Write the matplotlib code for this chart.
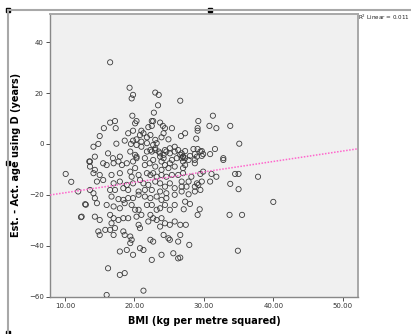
import numpy as np
import matplotlib.pyplot as plt
from matplotlib.patches import Rectangle
from matplotlib.lines import Line2D

bmi = [
    16.5, 19.3, 19.8, 19.6, 23.0, 23.5, 23.4, 26.6, 19.7, 22.8, 17.2, 16.5, 20.3, 20.1,
    22.5, 22.7, 23.7, 15.6, 17.3, 19.1, 19.8, 21.0, 21.3, 20.8, 22.0, 22.5, 24.1, 24.4,
    24.2, 25.4, 15.0, 14.1, 14.8, 17.4, 18.6, 19.5, 19.8, 20.3, 21.0, 21.8, 22.3, 23.0,
    23.2, 22.7, 23.9, 24.9, 25.8, 26.3, 16.2, 14.3, 16.9, 17.9, 19.4, 20.1, 20.3, 21.8,
    22.5, 23.0, 23.5, 24.6, 25.1, 24.2, 23.7,
    31.3, 29.2, 30.8, 31.8, 33.8, 29.1, 29.1, 27.3, 26.7, 28.9, 35.1, 28.5, 29.1, 29.7,
    31.6, 30.9, 27.3, 26.8, 28.0, 28.7, 29.7, 29.9, 32.8, 27.0, 27.3, 26.8,
    13.6, 13.6, 14.3, 15.5, 16.0, 17.0, 17.7, 18.2, 18.9, 19.8, 20.1, 21.5, 22.2, 23.0,
    23.9, 24.4, 25.1, 25.8, 24.9, 23.9,
    14.1, 15.0, 16.7, 17.9, 19.4, 19.6, 20.6, 21.8, 22.3, 22.7, 23.2, 23.9, 24.6, 25.4,
    26.3, 15.5, 14.6, 17.0, 17.9, 18.9, 19.8, 20.8, 21.3, 22.0, 23.0, 23.7, 24.4, 25.1,
    25.8, 13.6, 16.5, 17.2, 18.4, 19.1, 20.6, 21.5, 22.5, 23.7, 24.6, 14.1, 14.3, 12.9,
    14.6, 16.0, 16.7, 17.7, 18.4, 19.1, 19.8, 20.6, 21.5, 22.3, 23.2, 23.9, 24.6, 25.8,
    17.0, 17.9, 18.6, 20.1, 20.6, 19.6, 21.8, 22.5, 23.2, 23.7, 24.4, 25.1, 25.8,
    12.4, 14.3, 15.0, 16.5, 17.0, 16.7, 17.7, 18.4, 19.1, 20.3, 21.0, 20.6, 20.8,
    22.3, 22.7, 22.0, 23.2, 23.9, 24.4, 25.1, 23.7, 25.8,
    14.8, 15.0, 15.8, 16.5, 17.2, 17.0, 18.4, 18.6, 19.4, 19.6, 19.4,
    22.3, 22.7, 24.2, 24.9, 25.1, 26.3, 17.9, 18.9, 19.8, 20.8, 21.3,
    22.5, 23.9, 25.6, 26.3, 16.2, 17.9, 18.6, 21.3, 16.0,
    27.0, 27.3, 27.0, 28.7, 28.7, 32.8, 27.0, 28.2, 29.5, 29.9, 31.1, 31.8, 34.5, 35.0,
    37.8, 26.8, 27.8, 29.0, 29.7, 30.9, 33.8, 26.8, 27.5, 28.7, 29.2, 29.5, 35.0, 26.8,
    27.8, 28.7, 27.3, 28.0, 27.1, 29.4, 29.1, 33.7, 35.5, 40.0, 26.6, 27.4, 26.6, 27.9,
    26.6, 34.9,
    10.1, 10.9, 11.9, 13.0, 12.3, 13.5,
    20.3, 21.0, 21.8, 22.3, 23.0, 23.7, 24.4, 25.1, 25.8, 26.6, 20.3, 21.5, 22.7, 24.2,
    25.4, 26.1, 27.0, 27.8, 29.0, 29.5,
]
age_diff = [
    32.1, 22.1, 19.3, 17.9, 20.2, 19.3, 15.2, 17.0, 11.1, 12.3, 9.0, 8.4, 9.0, 8.1,
    9.0, 9.0, 8.4, 6.2, 6.2, 4.2, 5.2, 5.2, 4.2, 3.5, 6.6, 7.1, 7.1, 6.2,
    4.2, 6.2, 3.1, -1.1, 0.0, 0.1, 1.3, 0.0, 1.3, 1.8, 0.9, 2.6, 3.5, 1.6,
    0.3, -0.4, 2.6, 1.8, -1.1, -2.4, -3.7, -5.0, -5.6, -5.0, -3.0, -4.3, -5.6, -3.0,
    -3.0, -2.4, -3.0, -3.0, -3.7, -4.3, -5.0,
    11.1, 9.0, 7.1, 6.2, 7.1, 6.2, 5.2, 4.2, 3.1, 2.1, 0.1, -2.0, -2.0, -2.8,
    -2.0, -4.0, -2.8, -3.7, -4.7, -4.0, -4.7, -4.0, -5.6, -5.0, -5.6, -5.6,
    -6.9, -8.9, -10.2, -7.6, -8.3, -7.6, -6.9, -8.3, -7.6, -6.9, -9.5, -8.3, -7.6, -8.9,
    -6.9, -8.3, -7.6, -8.9, -9.5, -10.2,
    -11.5, -12.2, -12.2, -11.5, -10.9, -12.9, -12.2, -11.5, -12.2, -11.5, -12.9, -12.2, -12.9, -12.2,
    -12.2, -14.2, -14.8, -15.5, -14.8, -16.1, -15.5, -14.2, -15.5, -16.1, -14.8, -15.5, -16.8, -15.5,
    -17.4, -18.1, -18.1, -18.1, -17.4, -18.1, -18.7, -18.1, -18.1, -18.7, -19.4, -19.4, -21.3, -23.7,
    -23.3, -24.0, -20.7, -21.7, -22.0, -21.3, -21.3, -20.0, -20.7, -21.3, -20.7, -22.0, -21.3, -20.0,
    -24.6, -25.3, -23.3, -25.9, -25.9, -24.0, -24.0, -24.0, -25.9, -25.3, -24.0, -25.9, -24.0,
    -28.6, -28.6, -29.9, -27.9, -29.2, -31.2, -29.9, -29.2, -29.2, -28.6, -27.9, -31.8, -33.1,
    -27.9, -29.2, -30.5, -29.9, -29.2, -31.2, -31.8, -32.5, -30.5,
    -34.4, -35.8, -33.8, -33.8, -33.1, -35.8, -34.4, -35.8, -36.4, -37.7, -39.0,
    -37.7, -38.4, -35.8, -37.1, -37.7, -38.4, -42.3, -41.7, -43.6, -41.0, -41.7,
    -45.6, -43.6, -43.0, -45.0, -48.9, -51.5, -50.8, -57.7, -59.4,
    -6.9, -8.3, -9.5, -7.6, -6.3, -6.3, -11.5, -12.9, -11.8, -10.9, -11.8, -12.9, -11.8, -11.8,
    -12.9, -14.8, -14.8, -15.5, -14.8, -14.8, -15.7, -16.8, -16.8, -16.8, -16.1, -18.1, -17.8, -18.7,
    -19.8, -18.7, -22.7, -23.6, -25.7, -25.7, -27.9, -27.9, -27.9, -22.8, -31.8, -31.8, -35.8, -39.7,
    -44.7, -42.0,
    -11.8, -14.9, -18.7, -23.9, -28.8, -6.9,
    -0.4, -1.1, 0.3, -2.4, -1.7, -3.7, -2.4, -1.7, -3.0, -4.3, -5.0, -5.6, -6.3, -5.6,
    -6.3, -5.6, -5.0, -6.3, -5.0, -3.0,
]

# linear fit shown on the chart
fit_intercept = -23.3
fit_slope = 0.41
r2_text = 'R$^2$ Linear = 0.011'

x_ticks = [10, 20, 30, 40, 50]
y_ticks = [-60, -40, -20, 0, 20, 40]

fig = plt.figure(figsize=(4.11, 3.34), dpi=100)
ax = fig.add_axes([50 / 411, 1 - 296.5 / 334, 308 / 411, 282.5 / 334])
ax.set_facecolor('#f0f0f0')

ax.scatter(bmi, age_diff, s=14, facecolors='none', edgecolors='#3a3a3a',
           linewidths=0.6, zorder=3)
ax.axline((0, fit_intercept), slope=fit_slope, color='#ff66cc',
          linestyle=(0, (1, 1)), linewidth=1.1, zorder=4)

ax.set_xlim(7.84, 52.2)
ax.set_ylim(-60, 51.1)
ax.set_xticks(x_ticks)
ax.set_xticklabels(['%.2f' % v for v in x_ticks])
ax.set_yticks(y_ticks)
ax.tick_params(labelsize=5, colors='#333333', length=3, width=0.6, pad=1.5)

for side in ['left', 'bottom']:
    ax.spines[side].set_color('#888888')
    ax.spines[side].set_linewidth(1.0)
for side in ['top', 'right']:
    ax.spines[side].set_color('#a8a8a8')
    ax.spines[side].set_linewidth(1.4)

ax.set_xlabel('BMI (kg per metre squared)', fontsize=7, fontweight='bold', labelpad=5)
ax.set_ylabel('Est. - Act. age using D (years)', fontsize=7, fontweight='bold', labelpad=6)

fig.text(358 / 411, 1 - 17 / 334, r2_text, fontsize=4.1, va='center', ha='left',
         color='#222222')

# outer chart frame with selection handles
fig.add_artist(Line2D([8 / 411, 1], [1 - 10 / 334] * 2, color='#a8a8a8', lw=1.5))
fig.add_artist(Line2D([8 / 411] * 2, [0, 1 - 10 / 334], color='#a8a8a8', lw=1.5))
for hx, hy in [(8, 10), (8, 163), (210, 10), (8, 333)]:
    fig.add_artist(Rectangle(((hx - 2) / 411, 1 - (hy + 2) / 334), 4 / 411, 4 / 334,
                             color='black'))

fig.savefig('out.png', dpi=100)
